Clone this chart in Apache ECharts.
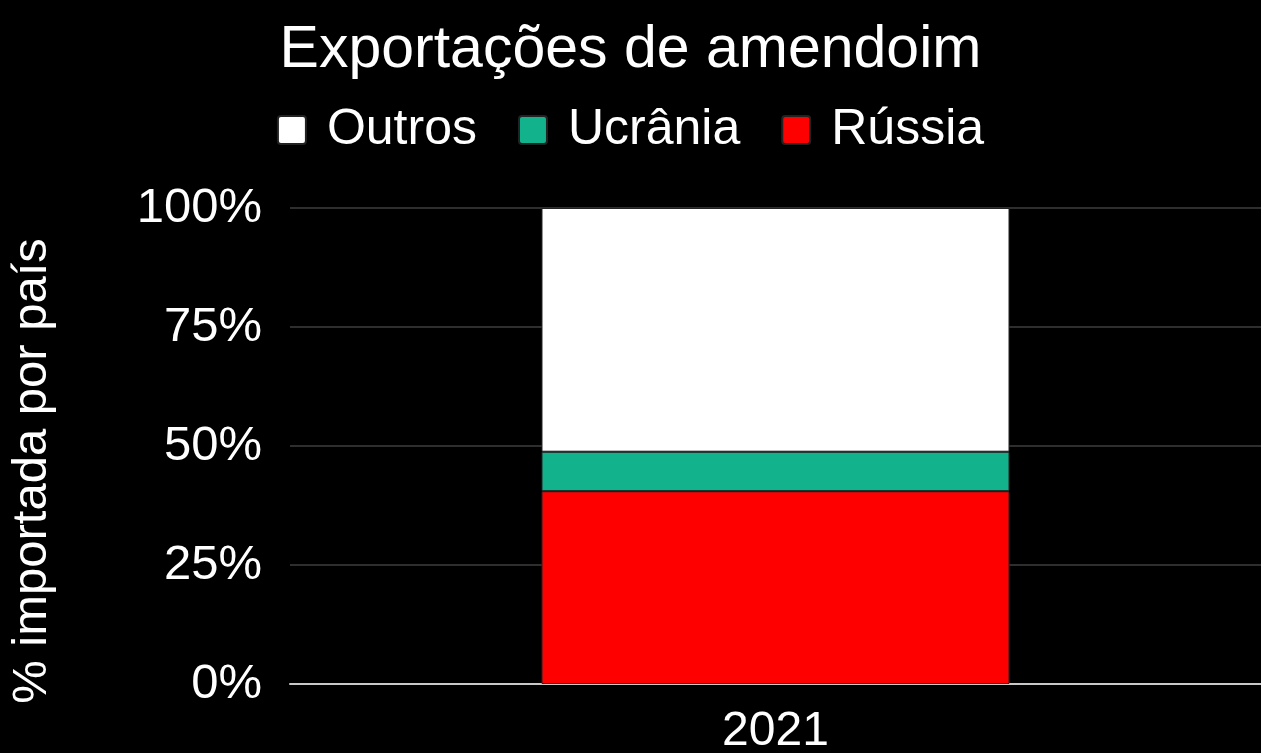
<!DOCTYPE html>
<html>
<head>
<meta charset="utf-8">
<script src="https://cdn.jsdelivr.net/npm/echarts@6/dist/echarts.min.js"></script>
<style>
  html, body { margin: 0; padding: 0; background: #000; }
  #chart { width: 1261px; height: 753px; }
</style>
</head>
<body>
<div id="chart"></div>
<script>
// dados
var categorias = ['2021'];
var russia = [40.5];
var ucrania = [8.3];
var outros = [51.2];
var yTicks = [0, 25, 50, 75, 100];

var chart = echarts.init(document.getElementById('chart'));
var font = '"Liberation Sans", Arial, sans-serif';

function serie(nome, dados, cor) {
    return {
        name: nome,
        type: 'bar',
        stack: 'total',
        data: dados,
        barWidth: '48.2%',
        itemStyle: { color: cor, borderColor: '#222', borderWidth: 1 },
        emphasis: { disabled: true }
    };
}

var option = {
    backgroundColor: '#000',
    animation: false,
    title: {
        text: 'Exportações de amendoim',
        left: 'center',
        top: 16,
        textStyle: { color: '#fff', fontSize: 59, fontWeight: 'normal', fontFamily: font }
    },
    legend: {
        top: 100,
        left: 'center',
        data: ['Outros', 'Ucrânia', 'Rússia'],
        icon: 'path://M3,0 H25 Q28,0 28,3 V25 Q28,28 25,28 H3 Q0,28 0,25 V3 Q0,0 3,0 Z',
        itemWidth: 28,
        itemHeight: 28,
        itemGap: 41,
        textStyle: { color: '#fff', fontSize: 50, fontFamily: font, padding: [0, 0, 0, 16] }
    },
    grid: { left: 290, right: 0, top: 208, bottom: 69, outerBoundsMode: 'none' },
    xAxis: {
        type: 'category',
        data: categorias,
        axisLine: { lineStyle: { color: '#c8c8c8', width: 2 } },
        axisTick: { show: false },
        axisLabel: { color: '#fff', fontSize: 48, fontFamily: font, margin: 24 }
    },
    yAxis: {
        type: 'value',
        min: yTicks[0],
        max: yTicks[yTicks.length - 1],
        interval: 25,
        name: '% importada por país',
        nameLocation: 'middle',
        nameGap: 233,
        nameTextStyle: { color: '#fff', fontSize: 49, fontFamily: font, padding: [0, 50, 0, 0] },
        axisLabel: { color: '#fff', fontSize: 49, fontFamily: font, margin: 28, formatter: '{value}%' },
        splitLine: { lineStyle: { color: '#2e2e2e', width: 2 } },
        axisLine: { show: false },
        axisTick: { show: false }
    },
    series: [
        serie('Rússia', russia, '#ff0000'),
        serie('Ucrânia', ucrania, '#12b38c'),
        serie('Outros', outros, '#ffffff')
    ]
};
chart.setOption(option);
</script>
</body>
</html>
